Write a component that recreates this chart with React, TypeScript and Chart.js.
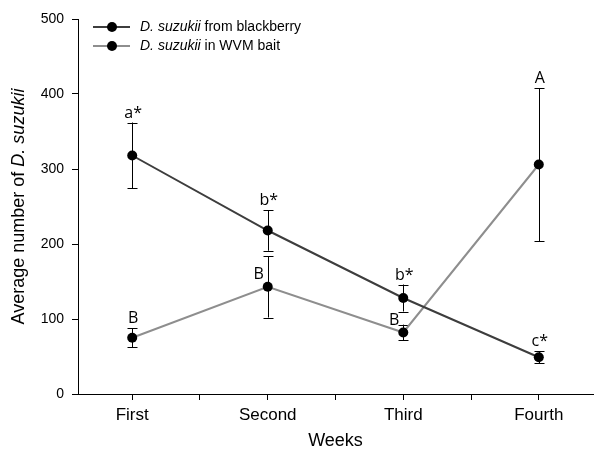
import React, { useEffect, useRef } from "react";
import { Chart, registerables } from "chart.js";

Chart.register(...registerables);

const weeks = ["First", "Second", "Third", "Fourth"];
const weekPos = [1, 2, 3, 4];
const blackberryMean = [318, 218, 128, 49];
const blackberrySE = [44, 27, 18, 8];
const baitMean = [75, 143, 82, 306];
const baitSE = [12.5, 41, 10.5, 102];
const yTicks = [0, 100, 200, 300, 400, 500];

// annotations: text, series index (0 blackberry, 1 bait), category index, placement
const annoText = ["a*", "b*", "b*", "c*", "B", "B", "B", "A"];
const annoSeries = [0, 0, 0, 0, 1, 1, 1, 1];
const annoCat = [0, 1, 2, 3, 0, 1, 2, 3];
const annoPlace = ["top", "top", "top", "top", "top", "left", "left", "top"];

const legendLabels = [
  { italic: "D. suzukii", rest: " from blackberry" },
  { italic: "D. suzukii", rest: " in WVM bait" },
];

const DARK = "#3d3d3d";
const GRAY = "#8e8e8e";
const SANS = "'Liberation Sans', Arial, sans-serif";
const ANNO = "'Open Sans', 'DejaVu Sans', sans-serif";

const means = [blackberryMean, baitMean];
const ses = [blackberrySE, baitSE];

const extrasPlugin = {
  id: "extras",
  beforeDatasetsDraw(chart: any) {
    const ctx = chart.ctx;
    const xs = chart.scales.x;
    const ys = chart.scales.y;
    ctx.save();
    ctx.strokeStyle = "#000";
    ctx.lineWidth = 1;
    for (let s = 0; s < 2; s++) {
      for (let i = 0; i < weekPos.length; i++) {
        const x = Math.round(xs.getPixelForValue(weekPos[i])) + 0.5;
        const top = ys.getPixelForValue(means[s][i] + ses[s][i]);
        const bot = ys.getPixelForValue(means[s][i] - ses[s][i]);
        ctx.beginPath();
        ctx.moveTo(x, top);
        ctx.lineTo(x, bot);
        ctx.moveTo(x - 5, Math.round(top) + 0.5);
        ctx.lineTo(x + 5, Math.round(top) + 0.5);
        ctx.moveTo(x - 5, Math.round(bot) + 0.5);
        ctx.lineTo(x + 5, Math.round(bot) + 0.5);
        ctx.stroke();
      }
    }
    ctx.restore();
  },
  afterDraw(chart: any) {
    const ctx = chart.ctx;
    const xs = chart.scales.x;
    const ys = chart.scales.y;
    ctx.save();
    // annotations
    ctx.fillStyle = "#000";
    ctx.font = `16px ${ANNO}`;
    ctx.textBaseline = "alphabetic";
    for (let k = 0; k < annoText.length; k++) {
      const s = annoSeries[k];
      const i = annoCat[k];
      const x = xs.getPixelForValue(weekPos[i]);
      if (annoPlace[k] === "top") {
        const top = ys.getPixelForValue(means[s][i] + ses[s][i]);
        ctx.textAlign = "center";
        ctx.fillText(annoText[k], x + 1, top - 5);
      } else {
        const py = ys.getPixelForValue(means[s][i]);
        ctx.textAlign = "right";
        ctx.fillText(annoText[k], x - 4, py - 8);
      }
    }
    // legend
    const colors = [DARK, GRAY];
    const rows = [27, 46];
    ctx.textAlign = "left";
    ctx.textBaseline = "middle";
    for (let r = 0; r < 2; r++) {
      const y = rows[r];
      ctx.strokeStyle = colors[r];
      ctx.lineWidth = 2;
      ctx.beginPath();
      ctx.moveTo(93, y);
      ctx.lineTo(130, y);
      ctx.stroke();
      ctx.fillStyle = "#000";
      ctx.beginPath();
      ctx.arc(112, y, 5, 0, Math.PI * 2);
      ctx.fill();
      ctx.font = `italic 14px ${SANS}`;
      ctx.fillText(legendLabels[r].italic, 140, y);
      const w = ctx.measureText(legendLabels[r].italic).width;
      ctx.font = `14px ${SANS}`;
      ctx.fillText(legendLabels[r].rest, 140 + w, y);
    }
    // y title
    const area = chart.chartArea;
    const cy = (area.top + area.bottom) / 2;
    ctx.translate(19, cy);
    ctx.rotate(-Math.PI / 2);
    const p1 = "Average number of ";
    const p2 = "D. suzukii";
    ctx.font = `18px ${SANS}`;
    const w1 = ctx.measureText(p1).width;
    ctx.font = `italic 18px ${SANS}`;
    const w2 = ctx.measureText(p2).width;
    const start = -(w1 + w2) / 2;
    ctx.textBaseline = "middle";
    ctx.font = `18px ${SANS}`;
    ctx.fillText(p1, start, 0);
    ctx.font = `italic 18px ${SANS}`;
    ctx.fillText(p2, start + w1, 0);
    ctx.restore();
  },
};

export default function App() {
  const ref = useRef<HTMLCanvasElement>(null);
  useEffect(() => {
    document.body.style.margin = "0";
    const chart = new Chart(ref.current as HTMLCanvasElement, {
      type: "line",
      data: {
        datasets: [
          {
            label: "D. suzukii from blackberry",
            data: weekPos.map((x, i) => ({ x, y: blackberryMean[i] })),
            borderColor: DARK,
            borderWidth: 2,
            pointRadius: 5,
            pointBackgroundColor: "#000",
            pointBorderColor: "#000",
            pointBorderWidth: 0,
          },
          {
            label: "D. suzukii in WVM bait",
            data: weekPos.map((x, i) => ({ x, y: baitMean[i] })),
            borderColor: GRAY,
            borderWidth: 2,
            pointRadius: 5,
            pointBackgroundColor: "#000",
            pointBorderColor: "#000",
            pointBorderWidth: 0,
          },
        ],
      },
      options: {
        animation: false,
        responsive: false,
        layout: { padding: { top: 19, right: 0, left: 0, bottom: 0 } },
        plugins: { legend: { display: false }, tooltip: { enabled: false } },
        scales: {
          x: {
            type: "linear",
            min: 0.6,
            max: 4.4,
            afterBuildTicks: (scale: any) => {
              scale.ticks = [1, 1.5, 2, 2.5, 3, 3.5, 4].map((v) => ({ value: v }));
            },
            afterFit: (scale: any) => {
              scale.height = 58;
            },
            ticks: {
              autoSkip: false,
              maxRotation: 0,
              color: "#000",
              padding: 5,
              font: { family: SANS, size: 17 },
              callback: (v: any) => {
                const idx = weekPos.indexOf(Number(v));
                return idx >= 0 ? weeks[idx] : "";
              },
            },
            grid: { drawOnChartArea: false, tickLength: 6, color: "#000" },
            border: { display: true, color: "#000", width: 1 },
            title: {
              display: true,
              text: "Weeks",
              color: "#000",
              font: { family: SANS, size: 18 },
              padding: { top: 0, bottom: 0 },
            },
          },
          y: {
            min: 0,
            max: 500,
            afterBuildTicks: (scale: any) => {
              scale.ticks = yTicks.map((v) => ({ value: v }));
            },
            afterFit: (scale: any) => {
              scale.width = 78;
            },
            ticks: {
              color: "#000",
              padding: 8,
              font: { family: SANS, size: 14 },
            },
            grid: { drawOnChartArea: false, tickLength: 6, color: "#000" },
            border: { display: true, color: "#000", width: 1 },
          },
        },
      },
      plugins: [extrasPlugin],
    } as any);
    return () => chart.destroy();
  }, []);
  return (
    <div style={{ position: "absolute", left: 0, top: 0, width: 598, height: 452, background: "#fff" }}>
      <canvas ref={ref} width={598} height={452} style={{ display: "block" }} />
    </div>
  );
}
